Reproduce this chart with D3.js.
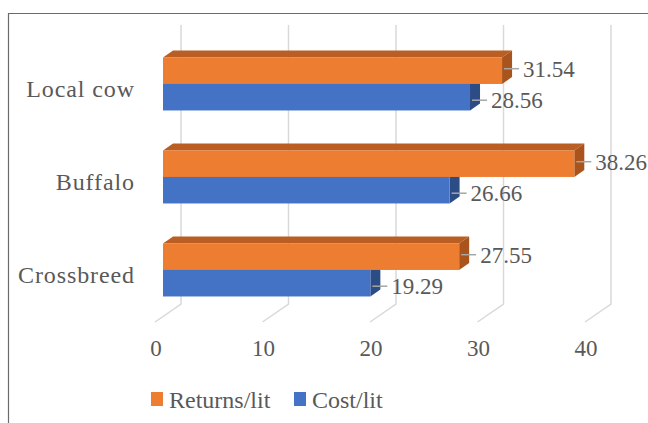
<!DOCTYPE html>
<html>
<head>
<meta charset="utf-8">
<script src="https://cdn.jsdelivr.net/npm/d3@7"></script>
<style>
  html, body { margin: 0; padding: 0; background: #fff; }
  svg { display: block; }
</style>
</head>
<body>
<svg id="chart" width="648" height="423"></svg>
<script>
const categories = ["Local cow", "Buffalo", "Crossbreed"];
const seriesNames = ["Returns/lit", "Cost/lit"];
const returnsPerLit = [31.54, 38.26, 27.55];
const costPerLit = [28.56, 26.66, 19.29];
const xTicks = [0, 10, 20, 30, 40];

const FONT = "'Liberation Serif', 'DejaVu Serif', 'Times New Roman', serif";
const TEXT_COLOR = "#595959";

const colors = {
  "Returns/lit": { front: "#ED7D31", top: "#BA5E23", side: "#A9541D" },
  "Cost/lit": { front: "#4472C4", top: "#34599A", side: "#2C4C86" }
};

const svg = d3.select("#chart");
const W = 648, H = 423;

// 3D geometry
const floorFrontY = 322, wallTopY = 25;
const depthX = 26, depthRatio = 18 / 26;
const barD0 = 8, barD1 = 18;
const proj = (x, y, d) => [x + d, y - d * depthRatio];

const x = d3.scaleLinear().domain([0, 40]).range([155, 585]);
const y = d3.scaleBand().domain(categories)
  .range([wallTopY + depthX * depthRatio, floorFrontY])
  .paddingInner(0.43).paddingOuter(0.215);
const ySub = d3.scaleBand().domain(seriesNames).range([0, y.bandwidth()]);

function styleText(sel, size) {
  return sel.attr("font-family", FONT).attr("font-size", size).attr("fill", TEXT_COLOR);
}

// frame
svg.append("path").attr("d", `M8.5,${H} L8.5,13.5 L${W},13.5`)
  .attr("fill", "none").attr("stroke", "#6b6b6b").attr("stroke-width", 1.2);

// gridlines (back wall + floor)
const grid = svg.append("g");
xTicks.forEach(v => {
  const [bx, by] = proj(x(v), floorFrontY, depthX);
  grid.append("path")
    .attr("d", `M${bx},${wallTopY} L${bx},${by} L${x(v)},${floorFrontY}`)
    .attr("fill", "none").attr("stroke", "#D9D9D9").attr("stroke-width", 1.5);
});

// tick labels
styleText(svg.append("g").selectAll("text").data(xTicks).join("text"), 23)
  .attr("x", d => x(d) + 1).attr("y", 356)
  .attr("text-anchor", "middle")
  .text(d => d);

// category labels
styleText(svg.append("g").selectAll("text").data(categories).join("text"), 24)
  .attr("x", x(0) - 20).attr("y", d => y(d) + y.bandwidth() / 2)
  .attr("dy", "0.33em").attr("text-anchor", "end")
  .attr("letter-spacing", 0.9)
  .text(d => d);

// bars
const rows = [];
categories.forEach((c, i) => {
  rows.push({ cat: c, series: "Cost/lit", value: costPerLit[i] });
  rows.push({ cat: c, series: "Returns/lit", value: returnsPerLit[i] });
});

const bars = svg.append("g");
rows.forEach(r => {
  const col = colors[r.series];
  const yTop0 = y(r.cat) + ySub(r.series);
  const yBot0 = yTop0 + ySub.bandwidth();
  const [x0, y0] = proj(x(0), yTop0, barD0);
  const [x1, y1] = proj(x(r.value), yBot0, barD0);
  const dx = barD1 - barD0, dy = dx * depthRatio;
  const g = bars.append("g");
  g.append("polygon")
    .attr("points", [[x0, y0], [x0 + dx, y0 - dy], [x1 + dx, y0 - dy], [x1, y0]].join(" "))
    .attr("fill", col.top);
  g.append("polygon")
    .attr("points", [[x1, y0], [x1 + dx, y0 - dy], [x1 + dx, y1 - dy], [x1, y1]].join(" "))
    .attr("fill", col.side);
  g.append("rect").attr("x", x0).attr("y", y0)
    .attr("width", x1 - x0).attr("height", y1 - y0)
    .attr("fill", col.front);
  r.endX = x1; r.midY = (y0 + y1) / 2 + (r.series === "Returns/lit" ? -2 : 3);
});

// data labels with leader lines
const labels = svg.append("g");
rows.forEach(r => {
  labels.append("line")
    .attr("x1", r.endX + 2).attr("x2", r.endX + 17)
    .attr("y1", r.midY).attr("y2", r.midY)
    .attr("stroke", "#A6A6A6").attr("stroke-width", 1.5);
  styleText(labels.append("text"), 23)
    .attr("x", r.endX + 21).attr("y", r.midY).attr("dy", "0.35em")
    .text(r.value.toFixed(2));
});

// legend
const legend = svg.append("g");
const legendItems = [
  { name: "Returns/lit", x: 151 },
  { name: "Cost/lit", x: 294 }
];
legendItems.forEach(it => {
  legend.append("rect").attr("x", it.x).attr("y", 392)
    .attr("width", 12).attr("height", 14)
    .attr("fill", colors[it.name].front);
  styleText(legend.append("text"), 24)
    .attr("x", it.x + 18).attr("y", 408)
    .text(it.name);
});
</script>
</body>
</html>
